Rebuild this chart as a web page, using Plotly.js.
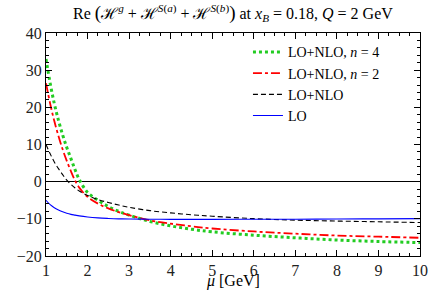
<!DOCTYPE html>
<html>
<head>
<meta charset="utf-8">
<script src="https://cdn.plot.ly/plotly-3.0.1.min.js"></script>
<style>html,body{margin:0;padding:0;background:#fff;}#chart{width:442px;height:290px;}</style>
</head>
<body>
<div id="chart"></div>
<script>
const mu = [1, 1.1, 1.2, 1.3, 1.4, 1.5, 1.6, 1.7, 1.8, 2, 2.25, 2.5, 2.75, 3, 3.5, 4, 4.5, 5, 6, 7, 8, 9, 10];
const loNloN4 = [33, 26.5, 21, 16.5, 12.6, 9.2, 6.2, 3.2, 0.6, -2.9, -5.0, -6.7, -8.0, -9.0, -10.7, -11.9, -12.8, -13.5, -14.4, -15.1, -15.7, -16.1, -16.4];
const loNloN2 = [26.5, 21, 16.3, 12.3, 8.7, 5.6, 2.8, 0.3, -1.6, -4.1, -5.9, -7.2, -8.2, -9.0, -10.4, -11.3, -12.0, -12.6, -13.4, -14.0, -14.5, -14.8, -15.1];
const loNlo = [10, 7.5, 5.3, 3.5, 1.9, 0.4, -0.7, -1.7, -2.5, -3.7, -4.8, -5.6, -6.3, -6.9, -7.8, -8.4, -8.9, -9.3, -9.95, -10.35, -10.6, -10.8, -11.0];
const lo = [-5, -6.2, -7.0, -7.6, -8.1, -8.5, -8.8, -9.0, -9.2, -9.5, -9.75, -9.9, -10.0, -10.05, -10.1, -10.15, -10.15, -10.15, -10.1, -10.1, -10.05, -10.0, -9.95];
const names = ['LO+NLO, <i>n</i> = 4', 'LO+NLO, <i>n</i> = 2', 'LO+NLO', 'LO'];
const xTicks = [1, 2, 3, 4, 5, 6, 7, 8, 9, 10];
const yTicks = [-20, -10, 0, 10, 20, 30, 40];
const xTitle = '<i>μ</i> [GeV]';
const titleText = 'Re <span style="font-size:19px">(</span>ℋ<sup><i>g</i></sup> + ℋ<sup><i>S</i>(<i>a</i>)</sup> + ℋ<sup><i>S</i>(<i>b</i>)</sup><span style="font-size:19px">)</span> at <i>x</i><sub><i>B</i></sub> = 0.18, <i>Q</i> = 2 GeV';

const serif = 'Liberation Serif';
const traces = [
  {x: mu, y: loNloN4, name: names[0], mode: 'lines', line: {color: '#22cc22', width: 3, dash: 'dot', shape: 'spline'}},
  {x: mu, y: loNloN2, name: names[1], mode: 'lines', line: {color: '#ff0000', width: 1.8, dash: 'dashdot', shape: 'spline'}},
  {x: mu, y: loNlo, name: names[2], mode: 'lines', line: {color: '#000000', width: 1.1, dash: '5px,3px', shape: 'spline'}},
  {x: mu, y: lo, name: names[3], mode: 'lines', line: {color: '#0000ff', width: 1.1, shape: 'spline'}}
];
const axisCommon = {
  showline: true, linecolor: '#000', linewidth: 1, mirror: 'allticks',
  ticks: 'inside', ticklen: 6, tickcolor: '#000', tickwidth: 1,
  showgrid: false, tickfont: {family: serif, size: 16, color: '#222'}
};
const layout = {
  width: 442, height: 290,
  margin: {l: 46, r: 22, t: 33, b: 34},
  paper_bgcolor: '#fff', plot_bgcolor: '#fff',
  font: {family: serif, color: '#000'},
  showlegend: true,
  title: {text: titleText, font: {family: serif, size: 16, color: '#000'}, x: 0.527, xanchor: 'center', y: 0.955, yanchor: 'middle'},
  xaxis: Object.assign({}, axisCommon, {
    range: [1, 10], tickvals: xTicks, zeroline: false,
    minor: {dtick: 0.25, ticklen: 3, ticks: 'inside', tickcolor: '#000', showgrid: false}
  }),
  yaxis: Object.assign({}, axisCommon, {
    range: [-20, 40], tickvals: yTicks, zeroline: true, zerolinecolor: '#000', zerolinewidth: 1,
    minor: {dtick: 2, ticklen: 3, ticks: 'inside', tickcolor: '#000', showgrid: false}
  }),
  annotations: [{text: xTitle, xref: 'paper', yref: 'paper', x: 0.5, y: -0.114, xanchor: 'center', yanchor: 'middle',
                 showarrow: false, font: {family: serif, size: 16, color: '#000'}}],
  legend: {x: 0.54, y: 0.985, xanchor: 'left', yanchor: 'top', bgcolor: 'rgba(0,0,0,0)',
           font: {family: serif, size: 14, color: '#000'}, tracegroupgap: 0, itemwidth: 30}
};
Plotly.newPlot('chart', traces, layout, {displayModeBar: false, staticPlot: true});
</script>
</body>
</html>
